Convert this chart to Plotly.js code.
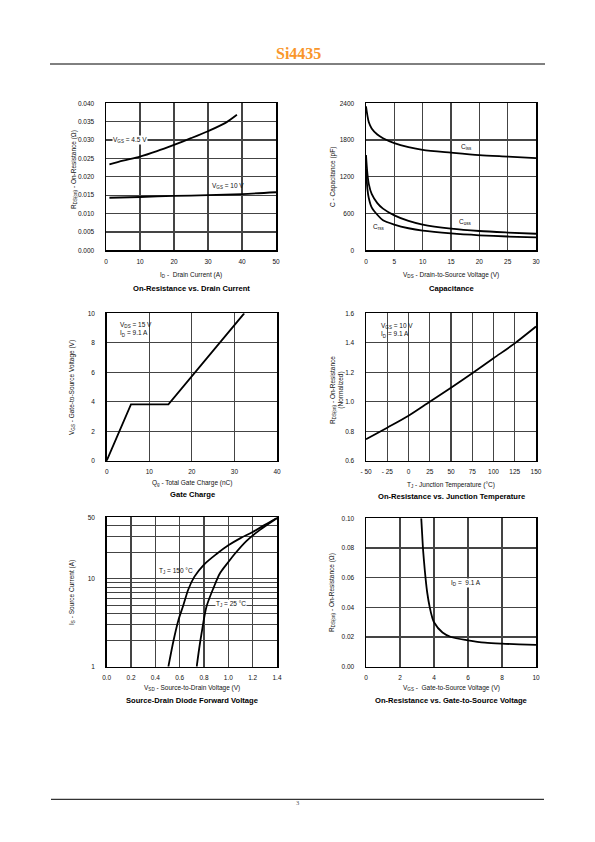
<!DOCTYPE html>
<html><head><meta charset="utf-8">
<script src="https://cdn.plot.ly/plotly-3.0.1.min.js"></script>
<style>html,body{margin:0;padding:0;background:#fff}#chart{width:595px;height:842px}</style>
</head><body><div id="chart"></div>
<script>
// ---- Chart 1: On-Resistance vs. Drain Current
const id45 = [1, 5, 10, 15, 20, 25, 30, 35, 38.5];
const rds45 = [0.0234, 0.0244, 0.0255, 0.0270, 0.0287, 0.0305, 0.0324, 0.0346, 0.0369];
const id10 = [1, 10, 20, 30, 40, 50];
const rds10 = [0.0143, 0.0145, 0.0148, 0.0150, 0.0153, 0.0158];
// ---- Chart 2: Capacitance
const vds = [0, 0.25, 0.5, 1, 2, 3, 5, 7.5, 10, 15, 20, 25, 30];
const ciss = [2350, 2200, 2090, 1990, 1890, 1830, 1750, 1685, 1640, 1595, 1555, 1530, 1505];
const coss = [1556, 1250, 1080, 920, 770, 680, 570, 480, 420, 355, 315, 290, 270];
const crss = [1330, 1000, 850, 700, 580, 490, 420, 360, 320, 275, 245, 225, 210];
// ---- Chart 3: Gate Charge
const qg = [0, 5.7, 14.5, 32.3];
const vgsQ = [0, 3.82, 3.82, 10];
// ---- Chart 4: On-Resistance vs. Junction Temperature
const tj = [-50, -25, 0, 25, 50, 75, 100, 125, 150];
const rNorm = [0.745, 0.824, 0.905, 1.0, 1.095, 1.193, 1.295, 1.396, 1.51];
const tjTickVals = [-50, -25, 0, 25, 50, 75, 100, 125, 150];
const tjTickText = ['- 50', '- 25', '0', '25', '50', '75', '100', '125', '150'];
// ---- Chart 5: Source-Drain Diode Forward Voltage
const vsd150 = [0.507, 0.55, 0.59, 0.63, 0.67, 0.72, 0.80, 0.90, 1.0, 1.1, 1.2, 1.3, 1.4];
const is150 = [1, 2, 3.4, 5, 7.5, 10.5, 14.5, 19, 24, 29, 34, 41, 49];
const vsd25 = [0.74, 0.76, 0.78, 0.82, 0.88, 0.93, 1.0, 1.05, 1.15, 1.26, 1.4];
const is25 = [1, 1.6, 2.4, 4.8, 8, 11.5, 15.5, 19, 27, 36, 49];
const isTickVals = [1, 2, 3, 4, 5, 6, 7, 8, 9, 10, 20, 30, 40, 50];
const isTickText = ['1', '', '', '', '', '', '', '', '', '10', '', '', '', '50'];
// ---- Chart 6: On-Resistance vs. Gate-to-Source Voltage
const vgs6 = [3.25, 3.3, 3.35, 3.42, 3.5, 3.6, 3.75, 3.9, 4.0, 4.5, 5, 6, 7, 8, 9, 10];
const rds6 = [0.1, 0.09, 0.08, 0.07, 0.06, 0.05, 0.04, 0.033, 0.03, 0.023, 0.020, 0.0178, 0.0162, 0.0155, 0.0151, 0.0147];

// ---- layout helpers
const W = 595, H = 842;
const FONT = 'Liberation Sans, Arial, sans-serif';
const px = x => x / W;
const py = y => 1 - y / H;
const boxes = [
  [106, 103.3, 276, 250.3],
  [366, 103.3, 536, 250.3],
  [106.7, 313.3, 277, 460.7],
  [366, 313.3, 536, 460.7],
  [106.7, 517.3, 277, 666.7],
  [366, 518.3, 536, 666.7]
];
const tickFont = {family: FONT, size: 6.5, color: '#111'};
function xax(i, extra) {
  const b = boxes[i];
  return Object.assign({
    domain: [px(b[0]), px(b[2])], anchor: 'y' + (i ? i + 1 : ''),
    showline: true, mirror: true, linecolor: '#000', linewidth: 1.5,
    showgrid: true, gridcolor: '#444', gridwidth: 1.2, zeroline: false,
    ticks: 'outside', ticklen: 4, tickcolor: 'rgba(0,0,0,0)', tickfont: tickFont,
    fixedrange: true
  }, extra);
}
function yax(i, extra) {
  const b = boxes[i];
  return Object.assign({
    domain: [py(b[3]), py(b[1])], anchor: 'x' + (i ? i + 1 : ''),
    showline: true, mirror: true, linecolor: '#000', linewidth: 1.5,
    showgrid: true, gridcolor: '#444', gridwidth: 1.2, zeroline: false,
    ticks: 'outside', ticklen: 9, tickcolor: 'rgba(0,0,0,0)', tickfont: tickFont,
    fixedrange: true
  }, extra);
}
const line = {color: '#000', width: 1.8};
function tr(i, x, y, shape) {
  return {x: x, y: y, type: 'scatter', mode: 'lines', xaxis: 'x' + (i ? i + 1 : ''), yaxis: 'y' + (i ? i + 1 : ''),
    line: Object.assign({shape: shape || 'spline', smoothing: 0.8}, line), hoverinfo: 'skip', showlegend: false};
}
const traces = [
  tr(0, id45, rds45), tr(0, id10, rds10),
  tr(1, vds, ciss), tr(1, vds, coss), tr(1, vds, crss),
  tr(2, qg, vgsQ, 'linear'),
  tr(3, tj, rNorm),
  tr(4, vsd150, is150), tr(4, vsd25, is25),
  tr(5, vgs6, rds6)
];

const annos = [];
function A(text, x, y, o) {
  annos.push(Object.assign({text: text, x: px(x), y: py(y), xref: 'paper', yref: 'paper',
    showarrow: false, xanchor: 'center', yanchor: 'middle',
    font: {family: FONT, size: 6.5, color: '#111'}}, o || {}));
}
function T(text, x, y) { A(text, x, y, {font: {family: FONT, size: 7.6, color: '#000', weight: 'bold'}}); }
function YT(text, x, y) { A(text, x, y, {textangle: -90}); }

// header/footer
A('<b>Si4435</b>', 298, 53.5, {font: {family: 'Liberation Serif, Times New Roman, serif', size: 16, color: '#F9962A'}});
A('3', 297, 802.5, {font: {family: 'Liberation Serif, serif', size: 6.5, color: '#555'}});

// chart 1
YT('R<sub>DS(on)</sub> - On-Resistance (Ω)', 74, 170);
A('I<sub>D</sub> -  Drain Current (A)', 191, 275);
T('On-Resistance vs. Drain Current', 191, 289);
A('V<sub>GS</sub> = 4.5 V', 112, 139.5, {xanchor: 'left', bgcolor: '#fff', borderpad: 0});
A('V<sub>GS</sub> = 10 V', 228, 186);
// chart 2
YT('C - Capacitance (pF)', 333, 177);
A('V<sub>DS</sub> - Drain-to-Source Voltage (V)', 451, 275);
T('Capacitance', 451, 289);
A('C<sub>iss</sub>', 466, 147);
A('C<sub>oss</sub>', 465, 222);
A('C<sub>rss</sub>', 378, 227);
// chart 3
YT('V<sub>GS</sub> - Gate-to-Source Voltage (V)', 72, 388);
A('Q<sub>g</sub> - Total Gate Charge (nC)', 192, 483);
T('Gate Charge', 192, 495);
A('V<sub>DS</sub> = 15 V<br>I<sub>D</sub> = 9.1 A', 118, 329.5, {xanchor: 'left', align: 'left'});
// chart 4
YT('R<sub>DS(on)</sub> - On-Resistance<br>(Normalized)', 337, 390);
A('T<sub>J</sub> - Junction Temperature (°C)', 451, 484.5);
T('On-Resistance vs. Junction Temperature', 451, 496.5);
A('V<sub>GS</sub> = 10 V<br>I<sub>D</sub> = 9.1 A', 379, 330, {xanchor: 'left', align: 'left'});
// chart 5
YT('I<sub>S</sub> - Source Current (A)', 72, 593);
A('V<sub>SD</sub> - Source-to-Drain Voltage (V)', 192, 688);
T('Source-Drain Diode Forward Voltage', 192, 700);
A('T<sub>J</sub> = 150 °C', 195, 570.5, {xanchor: 'right'});
A('T<sub>J</sub> = 25 °C', 215, 604, {xanchor: 'left', bgcolor: '#fff', borderpad: 0});
// chart 6
YT('R<sub>DS(on)</sub> - On-Resistance (Ω)', 332, 593);
A('V<sub>GS</sub> -  Gate-to-Source Voltage (V)', 451, 688);
T('On-Resistance vs. Gate-to-Source Voltage', 451, 700.5);
A('I<sub>D</sub> =  9.1 A', 466, 583, {bgcolor: '#fff', borderpad: 0});

const layout = {
  width: W, height: H, margin: {l: 0, r: 0, t: 0, b: 0},
  paper_bgcolor: '#fff', plot_bgcolor: '#fff', showlegend: false,
  font: {family: FONT, size: 6.5, color: '#111'},
  xaxis: xax(0, {range: [0, 50], dtick: 10}),
  yaxis: yax(0, {range: [0, 0.04], dtick: 0.005, tickformat: '.3f'}),
  xaxis2: xax(1, {range: [0, 30], dtick: 5}),
  yaxis2: yax(1, {range: [0, 2400], dtick: 600}),
  xaxis3: xax(2, {range: [0, 40], dtick: 10}),
  yaxis3: yax(2, {range: [0, 10], dtick: 2}),
  xaxis4: xax(3, {range: [-50, 150], tickvals: tjTickVals, ticktext: tjTickText}),
  yaxis4: yax(3, {range: [0.6, 1.6], dtick: 0.2, tickformat: '.1f'}),
  xaxis5: xax(4, {range: [0, 1.4], dtick: 0.2, tickformat: '.1f'}),
  yaxis5: yax(4, {type: 'log', range: [0, Math.log10(50)], tickvals: isTickVals, ticktext: isTickText}),
  xaxis6: xax(5, {range: [0, 10], dtick: 2}),
  yaxis6: yax(5, {range: [0, 0.1], dtick: 0.02, tickformat: '.2f'}),
  annotations: annos,
  shapes: [
    {type: 'line', xref: 'paper', yref: 'paper', x0: px(50), x1: px(545), y0: py(64), y1: py(64), line: {color: '#000', width: 1}},
    {type: 'line', xref: 'paper', yref: 'paper', x0: px(51), x1: px(544), y0: py(799.3), y1: py(799.3), line: {color: '#000', width: 1}}
  ]
};
Plotly.newPlot('chart', traces, layout, {displayModeBar: false, staticPlot: true});
</script></body></html>
